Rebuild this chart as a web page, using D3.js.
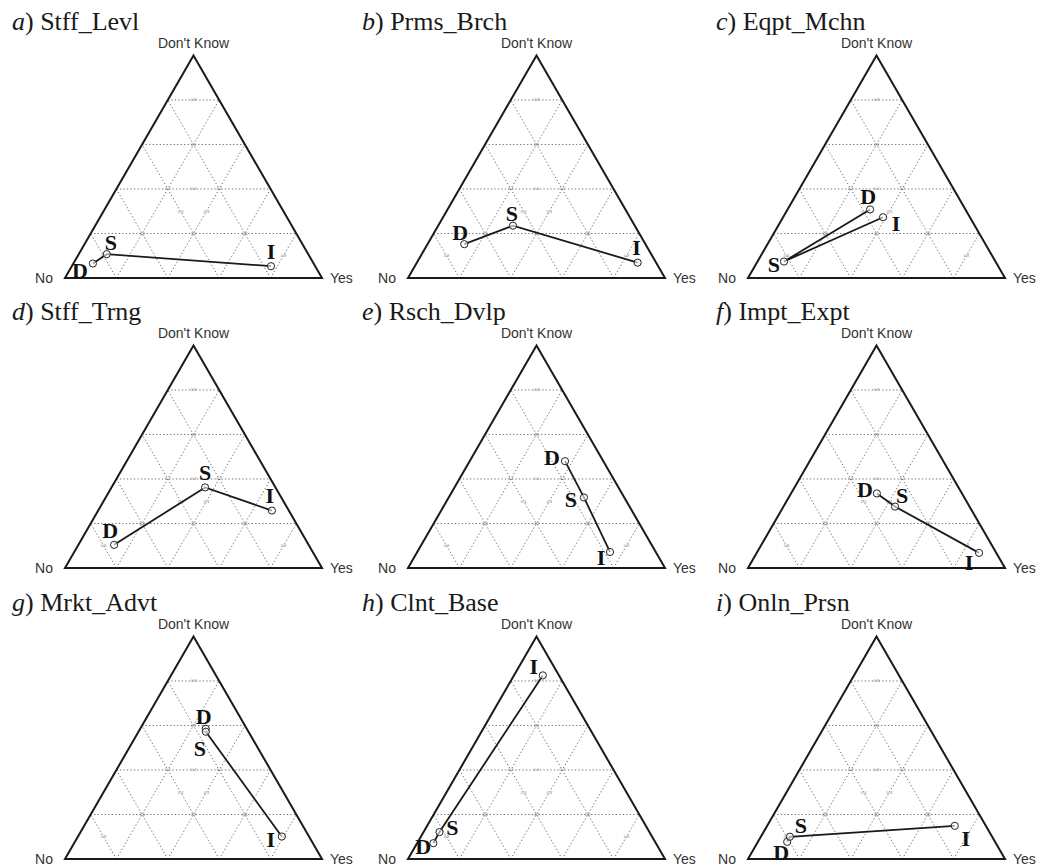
<!DOCTYPE html>
<html>
<head>
<meta charset="utf-8">
<script src="https://cdn.jsdelivr.net/npm/d3@7"></script>
<style>
  body { margin: 0; background: #fff; }
  svg { display: block; }
  .serif { font-family: "Liberation Serif", "Times New Roman", serif; }
  .sans { font-family: "Liberation Sans", Arial, sans-serif; }
</style>
</head>
<body>
<div id="chart"></div>
<script>
// panel titles
var panelLetters = ["a", "b", "c", "d", "e", "f", "g", "h", "i"];
var panelNames = ["Stff_Levl", "Prms_Brch", "Eqpt_Mchn",
                  "Stff_Trng", "Rsch_Dvlp", "Impt_Expt",
                  "Mrkt_Advt", "Clnt_Base", "Onln_Prsn"];
var pointLabels = ["D", "S", "I"];
var gridValues = [0.2, 0.4, 0.6, 0.8];
var gridTickLabels = ["0.2", "0.4", "0.6", "0.8"];

// shares for D, S, I in each panel
var yesShare = [
  [0.076, 0.109, 0.775],
  [0.143, 0.291, 0.859],
  [0.321, 0.103, 0.389],
  [0.139, 0.364, 0.676],
  [0.371, 0.526, 0.750],
  [0.334, 0.434, 0.865],
  [0.255, 0.262, 0.793],
  [0.063, 0.062, 0.112],
  [0.114, 0.113, 0.730]
];
var dkShare = [
  [0.065, 0.107, 0.053],
  [0.152, 0.235, 0.069],
  [0.308, 0.074, 0.273],
  [0.104, 0.362, 0.258],
  [0.480, 0.317, 0.072],
  [0.335, 0.276, 0.068],
  [0.585, 0.572, 0.101],
  [0.071, 0.121, 0.825],
  [0.077, 0.100, 0.149]
];
var noShare = [
  [0.859, 0.784, 0.172],
  [0.705, 0.474, 0.072],
  [0.371, 0.823, 0.338],
  [0.757, 0.274, 0.066],
  [0.149, 0.157, 0.178],
  [0.331, 0.290, 0.067],
  [0.160, 0.166, 0.106],
  [0.866, 0.817, 0.063],
  [0.809, 0.787, 0.121]
];

// layout
var colLeft = [65, 408, 748], titleX = [12, 362, 716];
var rowBase = [278, 568, 859];
var side = 257, triH = side * Math.sqrt(3) / 2;
// label offsets (dx, dy) from each circle
var labelOffsets = [
  [[-13, 7], [4, -12], [0, -15]],
  [[-4, -12], [-1, -12], [-1, -15]],
  [[-2, -13], [-10, 3], [13, 6]],
  [[-4, -14], [0, -15], [-2, -15]],
  [[-13, -4], [-13, 2], [-9, 6]],
  [[-12, -4], [7, -11], [-10, 10]],
  [[-2, -12], [-6, 17], [-11, 3]],
  [[-10, 3], [13, -5], [-9, -9]],
  [[-6, 11], [11, -11], [11, 13]]
];

var svg = d3.select("#chart").append("svg")
  .attr("width", 1037)
  .attr("height", 868);

panelNames.forEach(function(name, p) {
  var col = p % 3, row = Math.floor(p / 3);
  var left = colLeft[col], base = rowBase[row];
  var x = d3.scaleLinear().domain([0, 1]).range([left, left + side]);
  var y = d3.scaleLinear().domain([0, 1]).range([base, base - triH]);
  // ternary (yes, dk) -> screen
  function px(yes, dk) { return x(yes + dk / 2); }
  function py(yes, dk) { return y(dk); }

  var g = svg.append("g");

  // title
  var t = g.append("text")
    .attr("class", "serif")
    .attr("x", titleX[col])
    .attr("y", base - 248)
    .attr("font-size", 26)
    .attr("fill", "#1a1a1a");
  t.append("tspan").attr("font-style", "italic").text(panelLetters[p]);
  t.append("tspan").text(") " + name);

  // grid
  var gridLines = [];
  gridValues.forEach(function(v) {
    gridLines.push([[0, v], [1 - v, v]]);       // Don't Know
    gridLines.push([[v, 0], [v, 1 - v]]);       // Yes
    gridLines.push([[1 - v, 0], [0, 1 - v]]);   // No
  });
  g.selectAll("line.grid")
    .data(gridLines)
    .enter().append("line")
    .attr("class", "grid")
    .attr("x1", function(d) { return px(d[0][0], d[0][1]); })
    .attr("y1", function(d) { return py(d[0][0], d[0][1]); })
    .attr("x2", function(d) { return px(d[1][0], d[1][1]); })
    .attr("y2", function(d) { return py(d[1][0], d[1][1]); })
    .attr("stroke", "#6f6f6f")
    .attr("stroke-width", 1)
    .attr("stroke-dasharray", "1.3,2.2");

  // tiny grid tick labels on the medians
  var ticks = [];
  gridValues.forEach(function(v, i) {
    ticks.push([(1 - v) / 2, v, gridTickLabels[i]]);
    ticks.push([v, (1 - v) / 2, gridTickLabels[i]]);
    ticks.push([(1 - v) / 2, (1 - v) / 2, gridTickLabels[i]]);
  });
  g.selectAll("text.tick")
    .data(ticks)
    .enter().append("text")
    .attr("class", "tick sans")
    .attr("x", function(d) { return px(d[0], d[1]); })
    .attr("y", function(d) { return py(d[0], d[1]) + 1.5; })
    .attr("text-anchor", "middle")
    .attr("font-size", 4)
    .attr("fill", "#888")
    .text(function(d) { return d[2]; });

  // triangle
  var corners = [[0, 0], [1, 0], [0, 1]];
  g.append("path")
    .attr("d", d3.line()(corners.map(function(c) { return [px(c[0], c[1]), py(c[0], c[1])]; })) + "Z")
    .attr("fill", "none")
    .attr("stroke", "#1a1a1a")
    .attr("stroke-width", 2)
    .attr("stroke-linejoin", "miter");

  // vertex labels
  g.append("text").attr("class", "sans").attr("x", left - 12).attr("y", base + 5)
    .attr("text-anchor", "end")
    .attr("font-size", 14).attr("fill", "#333").text("No");
  g.append("text").attr("class", "sans").attr("x", left + side + 8).attr("y", base + 5)
    .attr("text-anchor", "start")
    .attr("font-size", 14).attr("fill", "#333").text("Yes");
  g.append("text").attr("class", "sans").attr("x", left + side / 2).attr("y", base - triH - 7)
    .attr("text-anchor", "middle")
    .attr("font-size", 14).attr("fill", "#333").text("Don't Know");

  // points D, S, I
  var pts = pointLabels.map(function(lab, i) {
    return {
      label: lab,
      yes: yesShare[p][i],
      dk: dkShare[p][i],
      no: noShare[p][i],
      off: labelOffsets[p][i]
    };
  });

  g.append("path")
    .datum(pts)
    .attr("d", d3.line()
      .x(function(d) { return px(d.yes, d.dk); })
      .y(function(d) { return py(d.yes, d.dk); }))
    .attr("fill", "none")
    .attr("stroke", "#1a1a1a")
    .attr("stroke-width", 1.8);

  g.selectAll("circle.pt")
    .data(pts)
    .enter().append("circle")
    .attr("class", "pt")
    .attr("cx", function(d) { return px(d.yes, d.dk); })
    .attr("cy", function(d) { return py(d.yes, d.dk); })
    .attr("r", 3.6)
    .attr("fill", "#fff")
    .attr("fill-opacity", 0.6)
    .attr("stroke", "#222")
    .attr("stroke-width", 1);

  g.selectAll("text.pt")
    .data(pts)
    .enter().append("text")
    .attr("class", "pt serif")
    .attr("x", function(d) { return px(d.yes, d.dk) + d.off[0]; })
    .attr("y", function(d) { return py(d.yes, d.dk) + d.off[1] + 7.5; })
    .attr("text-anchor", "middle")
    .attr("font-weight", "bold")
    .attr("font-size", 22)
    .attr("fill", "#111")
    .text(function(d) { return d.label; });
});
</script>
</body>
</html>
